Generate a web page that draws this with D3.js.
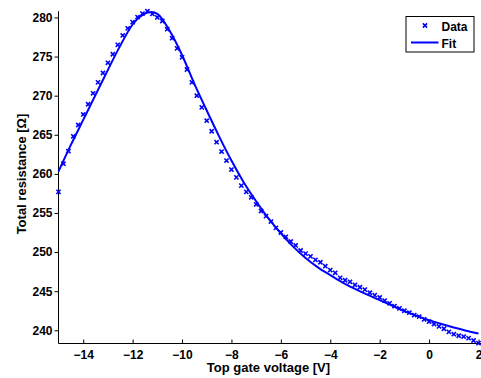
<!DOCTYPE html>
<html>
<head>
<meta charset="utf-8">
<script src="https://cdn.jsdelivr.net/npm/d3@7"></script>
<style>
  html, body { margin: 0; padding: 0; background: #fff; }
  svg { display: block; }
  text { font-family: "Liberation Sans", Arial, sans-serif; font-weight: bold; }
</style>
</head>
<body>
<svg id="chart" width="481" height="378"></svg>
<script>
// Measured data: top gate voltage (V) and total resistance (Ohm)
const dataV = [-15.0,-14.8,-14.6,-14.4,-14.2,-14.0,-13.8,-13.6,-13.4,-13.2,-13.0,-12.8,-12.6,-12.4,-12.2,-12.0,-11.8,-11.6,-11.4,-11.2,-11.0,-10.8,-10.6,-10.4,-10.2,-10.0,-9.8,-9.6,-9.4,-9.2,-9.0,-8.8,-8.6,-8.4,-8.2,-8.0,-7.8,-7.6,-7.4,-7.2,-7.0,-6.8,-6.6,-6.4,-6.2,-6.0,-5.8,-5.6,-5.4,-5.2,-5.0,-4.8,-4.6,-4.4,-4.2,-4.0,-3.8,-3.6,-3.4,-3.2,-3.0,-2.8,-2.6,-2.4,-2.2,-2.0,-1.8,-1.6,-1.4,-1.2,-1.0,-0.8,-0.6,-0.4,-0.2,0.0,0.2,0.4,0.6,0.8,1.0,1.2,1.4,1.6,1.8,2.0];
const dataR = [257.7,261.3,262.9,264.8,266.25,267.6,268.9,270.3,271.7,272.9,274.2,275.3,276.5,277.7,278.6,279.4,280.05,280.5,280.8,280.45,280.0,279.55,278.5,277.35,276.05,274.9,273.35,271.7,270.0,268.5,266.8,265.45,264.05,262.85,261.7,260.55,259.55,258.5,257.7,257.0,256.1,255.25,254.6,253.9,253.1,252.5,251.95,251.35,250.85,250.2,249.8,249.45,249.0,248.7,248.2,247.7,247.35,246.7,246.4,246.2,245.8,245.5,245.2,244.8,244.5,244.2,243.8,243.45,243.1,242.8,242.5,242.25,241.95,241.75,241.4,241.1,240.8,240.5,240.2,239.8,239.5,239.3,239.2,239.0,238.7,238.35];

// Fit curve
const fitV = [-15,-14.5,-14,-13.5,-13,-12.5,-12,-11.5,-11.25,-11,-10.5,-10,-9.5,-9,-8.5,-8,-7.5,-7,-6.5,-6,-5.5,-5,-4.5,-4,-3.5,-3,-2.5,-2,-1.5,-1,-0.5,0,0.5,1,1.5,2];
const fitR = [260.3,263.7,266.9,270.1,273.3,276.4,279.1,280.5,280.7,280.45,278.3,275.2,271.5,268.1,264.8,261.7,258.9,256.5,254.3,252.4,250.7,249.25,248.05,247.05,246.1,245.3,244.55,243.85,243.15,242.45,241.85,241.3,240.8,240.35,239.95,239.6];

const xTicks = [-14,-12,-10,-8,-6,-4,-2,0,2];
const yTicks = [240,245,250,255,260,265,270,275,280];
const xLabel = "Top gate voltage [V]";
const yLabel = "Total resistance [Ω]";
const legendLabels = ["Data", "Fit"];

const color = "#0000ff";
const svg = d3.select("#chart");

const x = d3.scaleLinear().domain([-15, 2]).range([58.5, 478.5]);
const y = d3.scaleLinear().domain(d3.extent(dataR)).range([343.2, 11.2]);

const fmt = d3.format("");

// X axis (ticks inward)
const gx = svg.append("g").attr("transform", "translate(0,343.5)")
  .call(d3.axisBottom(x).tickValues(xTicks).tickFormat(fmt).tickSizeInner(-4).tickSizeOuter(0).tickPadding(6.5));
gx.select(".domain").attr("d", "M58.5,0H481");
gx.selectAll("text").style("font-size", "12px").attr("fill", "#000");

// Y axis (ticks outward)
const gy = svg.append("g").attr("transform", "translate(58.5,0)")
  .call(d3.axisLeft(y).tickValues(yTicks).tickFormat(fmt).tickSizeInner(4).tickSizeOuter(0).tickPadding(2));
gy.selectAll("text").style("font-size", "12px").attr("fill", "#000");
gy.select(".domain").attr("d", "M0,11.2V343.5");

svg.selectAll(".domain, .tick line").attr("stroke", "#000").attr("stroke-width", 1);

// Axis labels
svg.append("text").attr("x", 268.5).attr("y", 372).attr("text-anchor", "middle")
  .style("font-size", "13px").text(xLabel);
svg.append("text").attr("transform", "translate(26,174) rotate(-90)").attr("text-anchor", "middle")
  .style("font-size", "13px").text(yLabel);

// Fit line
const line = d3.line().x((d, i) => x(fitV[i])).y(d => y(d)).curve(d3.curveMonotoneX);
svg.append("path").datum(fitR).attr("d", line)
  .attr("fill", "none").attr("stroke", color).attr("stroke-width", 2);

// Data markers (x)
const s = 2.1;
svg.append("g").selectAll("path").data(dataR).join("path")
  .attr("transform", (d, i) => `translate(${x(dataV[i])},${y(d)})`)
  .attr("d", `M${-s},${-s}L${s},${s}M${-s},${s}L${s},${-s}`)
  .attr("stroke", color).attr("stroke-width", 1.6).attr("fill", "none");

// Legend
const lg = svg.append("g");
lg.append("rect").attr("x", 406).attr("y", 16.5).attr("width", 68).attr("height", 35.5)
  .attr("fill", "#fff").attr("stroke", "#000").attr("stroke-width", 1);
lg.append("path").attr("transform", "translate(425,25.5)")
  .attr("d", `M${-s},${-s}L${s},${s}M${-s},${s}L${s},${-s}`)
  .attr("stroke", color).attr("stroke-width", 1.6);
lg.append("line").attr("x1", 411).attr("x2", 438.5).attr("y1", 42.5).attr("y2", 42.5)
  .attr("stroke", color).attr("stroke-width", 2);
lg.append("text").attr("x", 441.5).attr("y", 30.5).style("font-size", "12px").text(legendLabels[0]);
lg.append("text").attr("x", 441.5).attr("y", 48).style("font-size", "12px").text(legendLabels[1]);
</script>
</body>
</html>
